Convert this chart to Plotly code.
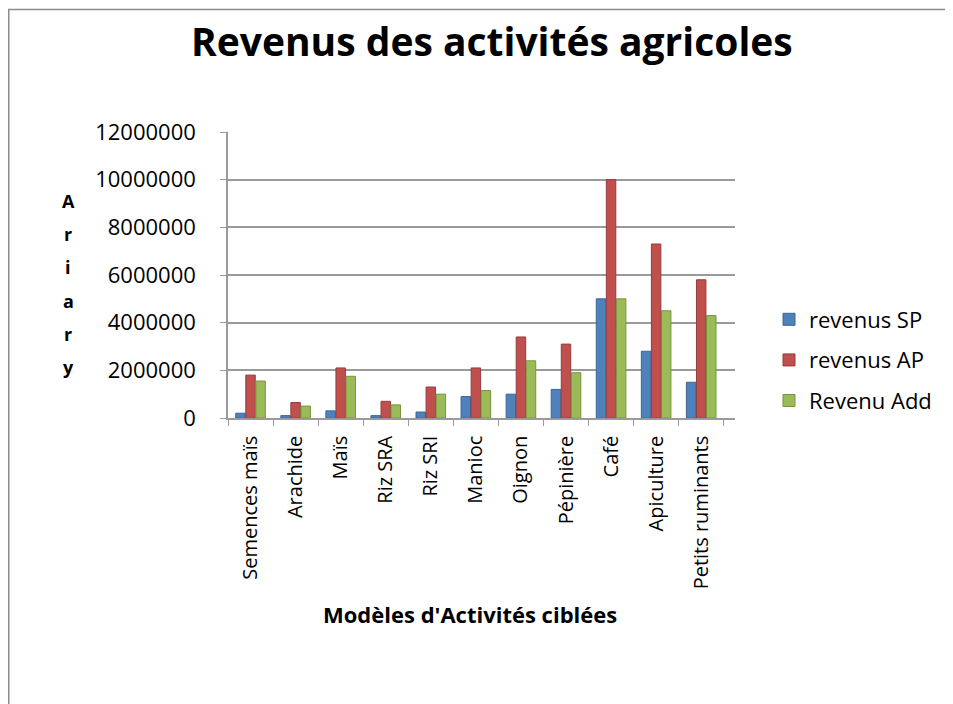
import plotly.graph_objects as go

# --------------------------------------------------------------
# Data (Ariary)
# --------------------------------------------------------------
categories = ["Semences maïs", "Arachide", "Maïs", "Riz SRA", "Riz SRI", "Manioc",
              "Oignon", "Pépinière", "Café", "Apiculture", "Petits ruminants"]
revenus_sp = [200000, 100000, 300000, 100000, 250000, 900000,
              1000000, 1200000, 5000000, 2800000, 1500000]
revenus_ap = [1800000, 650000, 2100000, 700000, 1300000, 2100000,
              3400000, 3100000, 10000000, 7300000, 5800000]
revenu_add = [1550000, 500000, 1750000, 550000, 1000000, 1150000,
              2400000, 1900000, 5000000, 4500000, 4300000]
y_ticks = [0, 2000000, 4000000, 6000000, 8000000, 10000000, 12000000]

SERIES = [
    ("revenus SP", revenus_sp, "#4F81BD", "#3A6696"),
    ("revenus AP", revenus_ap, "#C0504D", "#943C3A"),
    ("Revenu Add", revenu_add, "#9BBB59", "#78933F"),
]

FONT = "Open Sans, Lato, sans-serif"

# page body has an 8px margin, so the figure is a bit smaller than the window
W, H = 945, 696
L, R, T, B = 220, 218, 124, 286
PW, PH = W - L - R, H - T - B


def px_x(fx):
    # figure pixel -> paper x
    return (fx - L) / PW


def px_y(fy):
    # figure pixel -> paper y
    return (H - B - fy) / PH


fig = go.Figure()
for name, vals, color, edge in SERIES:
    fig.add_bar(x=categories, y=vals, name=name, legendgroup=name,
                marker=dict(color=color, line=dict(color=edge, width=1)))

fig.update_layout(
    width=W, height=H,
    margin=dict(l=L, r=R, t=T, b=B),
    paper_bgcolor="white", plot_bgcolor="white",
    barmode="group", bargap=0.33, bargroupgap=0.06,
    font=dict(family=FONT, color="#000000"),
    title=dict(text="<b>Revenus des activités agricoles</b>",
               font=dict(size=39, family=FONT), x=0.512, xanchor="center",
               y=1 - 34 / H, yanchor="middle"),
    legend=dict(x=px_x(761), y=px_y(352), xanchor="left", yanchor="middle",
                font=dict(size=22), tracegroupgap=9),
    showlegend=True,
)

fig.update_yaxes(range=[0, 12000000], tickvals=y_ticks,
                 ticktext=[str(v) for v in y_ticks],
                 tickfont=dict(size=22), showgrid=True, gridcolor="#9a9a9a", gridwidth=1.5,
                 showline=True, linecolor="#9a9a9a", linewidth=1.5,
                 ticks="outside", ticklen=6, tickcolor="#9a9a9a",
                 ticklabelstandoff=20, zeroline=False)
fig.update_xaxes(range=[-0.5, 10.75], tickangle=-90, tickfont=dict(size=20), showline=True,
                 linecolor="#9a9a9a", linewidth=1.5, ticks="outside",
                 tickson="boundaries", ticklen=6, tickcolor="#9a9a9a",
                 ticklabelstandoff=8)

# y axis title: letters stacked vertically
for i, ch in enumerate("Ariary"):
    fig.add_annotation(text=f"<b>{ch}</b>", xref="paper", yref="paper",
                       x=px_x(60), y=px_y(193 + i * 33.2),
                       showarrow=False, font=dict(size=18, family=FONT),
                       xanchor="center", yanchor="middle")

fig.add_annotation(text="<b>Modèles d'Activités ciblées</b>", xref="paper", yref="paper",
                   x=px_x(462), y=px_y(606), showarrow=False,
                   font=dict(size=22, family=FONT), xanchor="center", yanchor="middle")

# chart frame (only top and left edges fall inside the window)
fig.add_shape(type="rect", xref="paper", yref="paper",
              x0=px_x(0.75), x1=px_x(1100), y0=px_y(900), y1=px_y(1.5),
              line=dict(color="#8c8c8c", width=1.5), fillcolor="rgba(0,0,0,0)", layer="below")

fig.write_html("out.html")
